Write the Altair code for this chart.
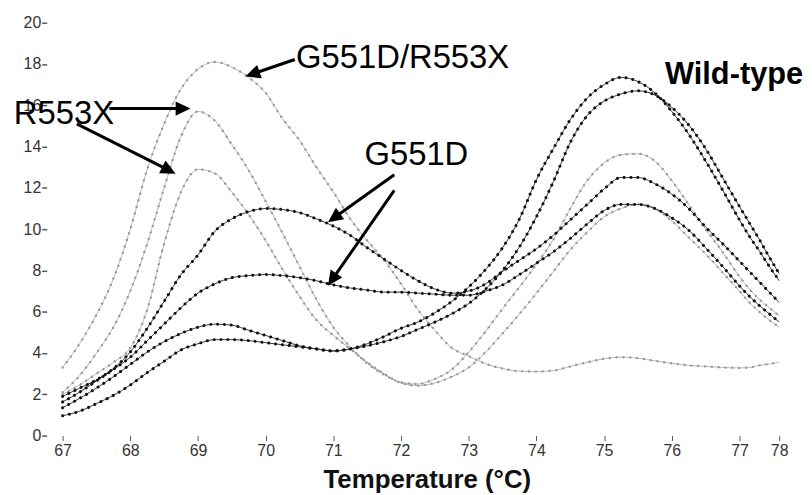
import math
import altair as alt
import pandas as pd

# ---------------- data ----------------
temperature = [67.0, 67.25, 67.5, 67.75, 68.0, 68.25, 68.5, 68.75, 69.0, 69.25,
               69.5, 69.75, 70.0, 70.25, 70.5, 70.75, 71.0, 71.25, 71.5, 71.75,
               72.0, 72.25, 72.5, 72.75, 73.0, 73.25, 73.5, 73.75, 74.0, 74.25,
               74.5, 74.75, 75.0, 75.25, 75.5, 75.75, 76.0, 76.25, 76.5, 76.75,
               77.0, 77.25, 77.5, 77.75, 78.0]

g551d_r553x = [3.3, 4.45, 5.85, 7.6, 10.0, 12.9, 15.1, 16.8, 17.75, 18.1,
               17.85, 17.35, 16.6, 15.35, 14.3, 13.0, 11.8, 10.5, 9.45, 8.5,
               7.35, 6.1, 5.1, 4.25, 3.85, 3.48, 3.25, 3.12, 3.1, 3.15,
               3.35, 3.55, 3.72, 3.8, 3.75, 3.62, 3.5, 3.4, 3.35, 3.3,
               3.28, 3.3, 3.4, 3.47, 3.55]

r553x_1 = [2.1, 2.9, 4.0, 5.25, 7.0, 9.3, 12.0, 14.5, 15.7, 15.25,
           14.1, 12.85, 11.35, 9.8, 8.2, 6.6, 5.25, 4.3, 3.5, 2.95,
           2.58, 2.5, 2.75, 3.2, 4.05, 5.05, 6.15, 7.2, 8.3, 9.5,
           11.0, 12.35, 13.2, 13.6, 13.65, 13.3, 12.35, 11.2, 10.0, 8.9,
           7.7, 7.1, 6.6, 6.2, 5.8]

r553x_2 = [2.0, 2.45, 3.0, 3.55, 4.25, 6.1, 9.3, 11.8, 12.9, 12.7,
           11.8, 10.7, 9.45, 8.05, 6.75, 5.6, 4.85, 4.2, 3.55, 3.0,
           2.55, 2.42, 2.55, 2.85, 3.3, 4.05, 4.95, 5.9, 6.9, 7.95,
           9.0, 9.85, 10.6, 11.0, 11.2, 11.0, 10.4, 9.6, 8.8, 7.9,
           7.0, 6.45, 6.0, 5.6, 5.25]

g551d_1 = [1.9, 2.3, 2.7, 3.25, 4.05, 5.2, 6.5, 7.8, 8.75, 9.9,
           10.5, 10.85, 11.0, 10.95, 10.8, 10.5, 10.15, 9.7, 9.1, 8.55,
           8.0, 7.5, 7.1, 6.9, 7.0, 7.35, 7.95, 8.5, 9.05, 9.7,
           10.45, 11.2, 11.95, 12.5, 12.5, 12.2, 11.7, 11.0, 10.1, 9.3,
           8.45, 7.95, 7.45, 6.95, 6.45]

g551d_2 = [1.63, 2.1, 2.65, 3.2, 3.8, 4.6, 5.4, 6.2, 6.9, 7.35,
           7.65, 7.75, 7.8, 7.75, 7.65, 7.5, 7.3, 7.15, 7.05, 6.95,
           6.95, 6.9, 6.85, 6.8, 6.8, 7.0, 7.3, 7.8, 8.35, 8.9,
           9.55, 10.25, 10.9, 11.2, 11.2, 11.0, 10.55, 9.95, 9.1, 8.2,
           7.25, 6.75, 6.3, 5.9, 5.5]

wild_type_1 = [1.35, 1.8, 2.3, 2.85, 3.45, 4.05, 4.55, 4.95, 5.25, 5.4,
               5.35, 5.1, 4.85, 4.6, 4.35, 4.2, 4.1, 4.2, 4.45, 4.8,
               5.2, 5.5, 5.95, 6.5, 7.2, 8.05, 9.1, 10.5, 12.4, 13.9,
               15.3, 16.35, 17.0, 17.35, 17.15, 16.6, 15.7, 14.6, 13.3, 11.9,
               10.45, 9.65, 8.95, 8.2, 7.5]

wild_type_2 = [0.96, 1.18, 1.55, 1.95, 2.45, 3.05, 3.6, 4.15, 4.45, 4.65,
               4.65, 4.6, 4.5, 4.4, 4.3, 4.2, 4.1, 4.2, 4.35, 4.55,
               4.8, 5.15, 5.5, 5.9, 6.4, 7.1, 8.0, 9.15, 10.6, 12.3,
               14.2, 15.5, 16.2, 16.55, 16.7, 16.5, 15.9, 15.05, 13.9, 12.5,
               11.1, 10.3, 9.5, 8.65, 7.85]

light_names = ["G551D/R553X", "R553X a", "R553X b"]
light_values = [g551d_r553x, r553x_1, r553x_2]
dark_names = ["G551D a", "G551D b", "Wild-type a", "Wild-type b"]
dark_values = [g551d_1, g551d_2, wild_type_1, wild_type_2]

x_ticks = [67, 68, 69, 70, 71, 72, 73, 74, 75, 76, 77, 78]
y_ticks = [0, 2, 4, 6, 8, 10, 12, 14, 16, 18, 20]

# annotation labels (temperature, signal at text baseline-left)
label_text = ["G551D/R553X", "G551D", "R553X"]
label_t = [70.45, 71.46, 66.28]
label_v = [17.79, 13.13, 15.10]
label_size = [33, 33, 33]
wt_text = ["Wild-type"]
wt_t = [75.90]
wt_v = [17.02]

# arrows: tail -> tip
arrow_t1 = [70.43, 67.69, 67.21, 71.90, 71.90]
arrow_v1 = [18.22, 15.84, 15.10, 12.64, 11.88]
arrow_t2 = [69.70, 68.89, 68.67, 70.92, 70.92]
arrow_v2 = [17.40, 15.84, 12.69, 10.34, 7.26]


def build(names, values):
    rows = []
    for n, vals in zip(names, values):
        for t, v in zip(temperature, vals):
            rows.append({"curve": n, "T": t, "V": v})
    return pd.DataFrame(rows)


light_df = build(light_names, light_values)
dark_df = build(dark_names, dark_values)

# arrow geometry (shorten shafts so they end inside the heads)
PX_X, PX_Y = 68.2, 20.8
arrow_rows = []
for t1, v1, t2, v2 in zip(arrow_t1, arrow_v1, arrow_t2, arrow_v2):
    dx = (t2 - t1) * PX_X
    dy = -(v2 - v1) * PX_Y
    length = math.hypot(dx, dy)
    f = (length - 9) / length
    ang = math.degrees(math.atan2(dx, -dy)) % 360
    arrow_rows.append({"t1": t1, "v1": v1,
                       "t2": t1 + (t2 - t1) * f, "v2": v1 + (v2 - v1) * f,
                       "tt": t2, "tv": v2, "ang": ang})
arrow_df = pd.DataFrame(arrow_rows)

label_df = pd.DataFrame({"label": label_text, "T": label_t, "V": label_v, "fs": label_size})
wt_df = pd.DataFrame({"label": wt_text, "T": wt_t, "V": wt_v})

FONT = "Liberation Sans"

x_scale = alt.Scale(domain=[67, 77, 78], range=[0, 682, 722], nice=False, zero=False)
y_scale = alt.Scale(domain=[0, 20], nice=False, zero=False)

x_axis = alt.Axis(values=x_ticks, format="d", domain=False, grid=False,
                  tickSize=5, tickColor="#555555", tickWidth=1,
                  labelFont=FONT, labelFontSize=16, labelColor="#333333",
                  labelPadding=2, labelFlush=False, labelOverlap=False,
                  title="Temperature (°C)", titleFont=FONT, titleFontSize=26,
                  titleFontWeight="bold", titleColor="#111111",
                  titleX=367, titleY=52, titleBaseline="alphabetic", titleAlign="center")
y_axis = alt.Axis(values=y_ticks, format="d", domain=False, grid=False,
                  tickSize=5, tickColor="#555555", tickWidth=1.5, offset=16,
                  labelFont=FONT, labelFontSize=16, labelColor="#333333",
                  labelPadding=1, labelFlush=False, labelOverlap=False, title=None)

X = alt.X("T:Q", scale=x_scale, axis=x_axis)
Y = alt.Y("V:Q", scale=y_scale, axis=y_axis)
Xn = alt.X("T:Q", scale=x_scale)
Yn = alt.Y("V:Q", scale=y_scale)

light_line = alt.Chart(light_df).mark_line(
    color="#b8b8b8", strokeWidth=1, interpolate="monotone"
).encode(x=X, y=Y, detail="curve:N")
light_beads = alt.Chart(light_df).mark_line(
    color="#999999", strokeWidth=2.4, strokeCap="round", strokeDash=[0.1, 6.8],
    interpolate="monotone"
).encode(x=Xn, y=Yn, detail="curve:N")
dark_line = alt.Chart(dark_df).mark_line(
    color="#3a3a3a", strokeWidth=1, interpolate="monotone"
).encode(x=Xn, y=Yn, detail="curve:N")
dark_beads = alt.Chart(dark_df).mark_line(
    color="#111111", strokeWidth=3, strokeCap="round", strokeDash=[0.1, 6.8],
    interpolate="monotone"
).encode(x=Xn, y=Yn, detail="curve:N")

shafts = alt.Chart(arrow_df).mark_rule(color="black", strokeWidth=3).encode(
    x=alt.X("t1:Q", scale=x_scale), y=alt.Y("v1:Q", scale=y_scale),
    x2="t2:Q", y2="v2:Q")
heads = alt.Chart(arrow_df).mark_point(
    shape="M0,0L-0.45,0.95L0.45,0.95Z", filled=True, color="black",
    opacity=1, size=1000, strokeWidth=0
).encode(x=alt.X("tt:Q", scale=x_scale), y=alt.Y("tv:Q", scale=y_scale),
         angle=alt.Angle("ang:Q", scale=None))

labels = alt.Chart(label_df).mark_text(
    align="left", baseline="alphabetic", font=FONT, color="black"
).encode(x=alt.X("T:Q", scale=x_scale), y=alt.Y("V:Q", scale=y_scale),
         text="label:N", size=alt.Size("fs:Q", scale=None, legend=None))
wt_label = alt.Chart(wt_df).mark_text(
    align="left", baseline="alphabetic", font=FONT, fontSize=31,
    fontWeight="bold", color="black"
).encode(x=alt.X("T:Q", scale=x_scale), y=alt.Y("V:Q", scale=y_scale), text="label:N")

chart = alt.layer(
    light_line, light_beads, dark_line, dark_beads, shafts, heads, labels, wt_label
).properties(
    width=722, height=416,
    padding={"left": 55, "top": 13, "right": 25, "bottom": 58},
    autosize=alt.AutoSizeParams(type="none"),
    background="white",
).configure_view(stroke=None)

chart.save("out.html", embed_options={"renderer": "svg", "actions": False})
